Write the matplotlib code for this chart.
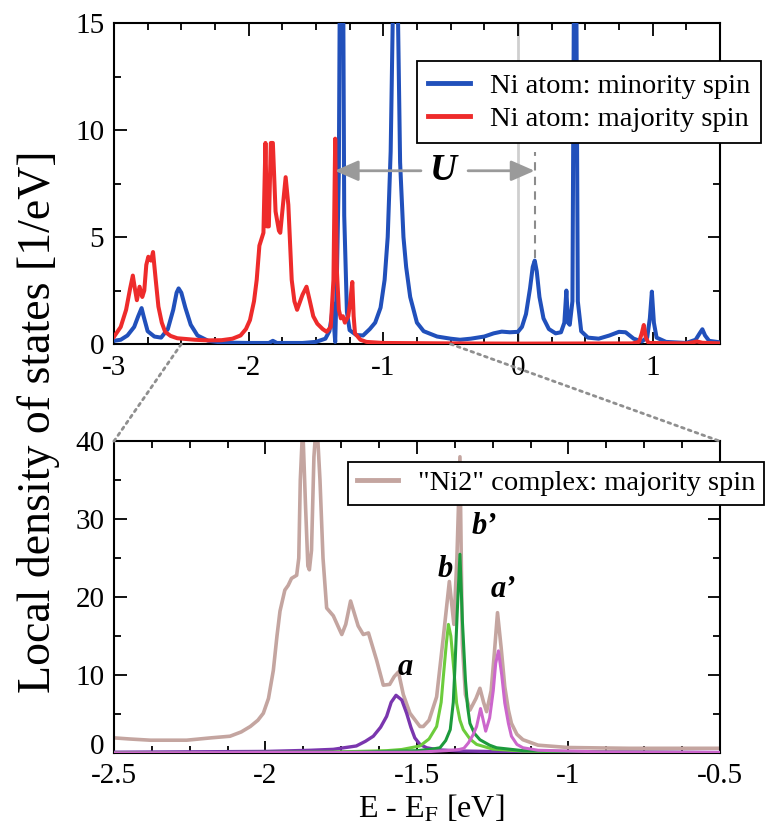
"""
Local density of states: Ni atom (top) and "Ni2" complex zoom (bottom).
"""

import matplotlib
matplotlib.use("Agg")
import matplotlib.pyplot as plt
from matplotlib.patches import ConnectionPatch
from matplotlib.ticker import MultipleLocator

plt.rcParams["font.family"] = ["Liberation Serif", "DejaVu Serif"]
plt.rcParams["mathtext.fontset"] = "stix"
plt.rcParams["axes.unicode_minus"] = False

# ---- top panel: Ni atom ----
minority_x = [-3.0, -2.95, -2.9, -2.85, -2.82, -2.795, -2.78, -2.75, -2.7, -2.65,
              -2.6, -2.56, -2.535, -2.52, -2.5, -2.47, -2.43, -2.38, -2.3, -2.2,
              -2.0, -1.85, -1.82, -1.79, -1.6, -1.5, -1.43, -1.4, -1.385, -1.373,
              -1.365, -1.357, -1.345, -1.33, -1.32, -1.31, -1.3, -1.29, -1.27, -1.25,
              -1.2, -1.15, -1.1, -1.06, -1.02, -0.99, -0.967, -0.945, -0.93, -0.907,
              -0.89, -0.875, -0.85, -0.83, -0.8, -0.75, -0.7, -0.6, -0.5, -0.43,
              -0.35, -0.25, -0.18, -0.12, -0.06, 0.0, 0.03, 0.06, 0.09, 0.11,
              0.125, 0.14, 0.16, 0.19, 0.23, 0.28, 0.32, 0.345, 0.36, 0.372,
              0.385, 0.405, 0.415, 0.425, 0.435, 0.445, 0.47, 0.52, 0.6, 0.68,
              0.75, 0.8, 0.86, 0.92, 0.96, 0.98, 0.995, 1.01, 1.03, 1.1,
              1.25, 1.32, 1.35, 1.37, 1.39, 1.42, 1.5]
minority_y = [0.15, 0.2, 0.4, 0.8, 1.3, 1.68, 1.3, 0.6, 0.35, 0.3,
              0.7, 1.6, 2.4, 2.6, 2.4, 1.7, 0.9, 0.4, 0.15, 0.07,
              0.05, 0.05, 0.15, 0.05, 0.05, 0.1, 0.25, 0.6, 1.2, 1.9,
              0.8, 0.1, 3.0, 8.0, 20.0, 40.0, 20.0, 6.0, 1.5, 0.65,
              0.42, 0.4, 0.7, 1.0, 1.7, 3.0, 5.0, 9.0, 15.0, 40.0,
              15.0, 8.5, 5.0, 3.6, 2.2, 1.0, 0.6, 0.35, 0.25, 0.2,
              0.25, 0.35, 0.5, 0.58, 0.55, 0.57, 0.8, 1.4, 2.6, 3.6,
              3.9, 3.4, 2.2, 1.2, 0.7, 0.5, 0.55, 1.0, 2.5, 1.0,
              0.9, 2.0, 15.0, 40.0, 15.0, 2.0, 0.6, 0.3, 0.25, 0.4,
              0.57, 0.55, 0.25, 0.12, 0.3, 1.2, 2.45, 1.0, 0.3, 0.1,
              0.05, 0.2, 0.5, 0.69, 0.4, 0.15, 0.08]

majority_x = [-3.0, -2.95, -2.91, -2.88, -2.86, -2.845, -2.83, -2.81, -2.79, -2.775,
              -2.76, -2.745, -2.725, -2.71, -2.69, -2.67, -2.645, -2.62, -2.58, -2.53,
              -2.4, -2.3, -2.2, -2.12, -2.06, -2.02, -1.99, -1.96, -1.94, -1.92,
              -1.905, -1.89, -1.875, -1.863, -1.85, -1.835, -1.82, -1.8, -1.775, -1.765,
              -1.745, -1.725, -1.705, -1.68, -1.66, -1.64, -1.6, -1.57, -1.545, -1.52,
              -1.49, -1.45, -1.42, -1.39, -1.37, -1.357, -1.345, -1.33, -1.315, -1.3,
              -1.285, -1.26, -1.245, -1.23, -1.22, -1.21, -1.17, -1.125, -1.0, -0.5,
              0.0, 0.85, 0.9, 0.92, 0.935, 0.95, 0.97, 1.25, 1.3, 1.33,
              1.37, 1.5]
majority_y = [0.34, 0.8, 1.6, 2.6, 3.2, 2.6, 2.05, 2.68, 2.2, 2.5,
              3.7, 4.08, 3.9, 4.3, 3.0, 1.75, 1.0, 0.57, 0.38, 0.27,
              0.2, 0.17, 0.18, 0.25, 0.4, 0.7, 1.12, 2.0, 3.0, 4.6,
              4.9, 5.2, 9.4, 5.5, 5.5, 9.4, 9.4, 6.2, 5.3, 5.2,
              6.5, 7.8, 6.5, 3.0, 2.0, 1.6, 2.3, 2.68, 2.0, 1.3,
              0.95, 0.7, 0.57, 0.8, 3.0, 9.6, 3.5, 1.6, 1.2, 1.3,
              1.0, 1.3, 2.0, 2.9, 1.3, 0.5, 0.2, 0.1, 0.05, 0.03,
              0.02, 0.03, 0.1, 0.5, 0.89, 0.3, 0.05, 0.03, 0.08, 0.12,
              0.06, 0.03]

# ---- bottom panel: "Ni2" complex ----
ni2_x = [-2.5, -2.45, -2.38, -2.26, -2.18, -2.117, -2.08, -2.05, -2.025, -2.007,
         -1.99, -1.974, -1.962, -1.952, -1.936, -1.925, -1.914, -1.897, -1.89, -1.885,
         -1.877, -1.868, -1.86, -1.855, -1.848, -1.84, -1.831, -1.82, -1.81, -1.798,
         -1.776, -1.754, -1.748, -1.735, -1.719, -1.694, -1.677, -1.66, -1.633, -1.611,
         -1.59, -1.575, -1.561, -1.545, -1.523, -1.49, -1.479, -1.46, -1.435, -1.413,
         -1.393, -1.378, -1.368, -1.358, -1.35, -1.34, -1.325, -1.305, -1.292, -1.28,
         -1.27, -1.255, -1.244, -1.234, -1.222, -1.21, -1.198, -1.188, -1.17, -1.15,
         -1.1, -1.0, -0.8, -0.5]
ni2_y = [1.94, 1.8, 1.64, 1.64, 1.94, 2.15, 2.7, 3.4, 4.2, 5.1,
         7.0, 10.6, 15.0, 18.2, 20.9, 21.5, 22.4, 22.8, 25.0, 35.0,
         42.0, 32.0, 24.0, 23.5, 26.0, 38.0, 43.0, 35.0, 25.0, 18.6,
         17.6, 15.7, 15.2, 16.5, 19.5, 16.3, 15.2, 15.4, 11.9, 8.7,
         8.8, 9.8, 10.4, 7.5, 5.1, 3.4, 3.4, 4.2, 7.2, 14.8,
         22.0, 16.5, 25.0, 38.0, 14.0, 7.5, 5.5, 7.0, 8.3, 6.5,
         5.3, 8.0, 13.0, 18.0, 13.5, 8.5, 5.5, 3.8, 2.4, 1.7,
         1.0, 0.7, 0.6, 0.6]

a_x = [-2.5, -2.0, -1.85, -1.776, -1.7, -1.67, -1.644, -1.62, -1.6, -1.585,
       -1.569, -1.55, -1.534, -1.52, -1.507, -1.49, -1.468, -1.43, -1.35, -1.2, -0.5]
a_y = [0.1, 0.2, 0.35, 0.47, 0.9, 1.5, 2.15, 3.3, 4.7, 6.5,
       7.4, 6.8, 5.1, 3.3, 1.94, 1.1, 0.67, 0.4, 0.25, 0.15, 0.05]

b_x = [-2.5, -1.8, -1.6, -1.55, -1.49, -1.46, -1.435, -1.42, -1.413, -1.403,
       -1.396, -1.388, -1.378, -1.369, -1.358, -1.347, -1.325, -1.303, -1.25, -1.15,
       -0.9, -0.5]
b_y = [0.02, 0.1, 0.3, 0.45, 0.9, 1.8, 3.4, 6.5, 9.7, 14.0,
       16.5, 15.0, 10.6, 6.4, 4.2, 3.0, 1.8, 1.1, 0.5, 0.25,
       0.1, 0.05]

bp_x = [-2.5, -1.7, -1.5, -1.45, -1.424, -1.405, -1.39, -1.38, -1.375, -1.367,
        -1.358, -1.35, -1.34, -1.333, -1.325, -1.31, -1.292, -1.26, -1.237, -1.15,
        -0.9, -0.5]
bp_y = [0.02, 0.1, 0.3, 0.5, 0.67, 1.6, 3.0, 6.5, 10.6, 18.0,
        25.5, 17.0, 9.4, 6.0, 3.8, 2.5, 1.7, 1.0, 0.67, 0.3,
        0.12, 0.05]

ap_x = [-2.5, -1.5, -1.4, -1.36, -1.345, -1.33, -1.315, -1.303, -1.29, -1.28,
        -1.273, -1.26, -1.248, -1.24, -1.231, -1.22, -1.21, -1.198, -1.188, -1.17,
        -1.15, -1.1, -0.9, -0.5]
ap_y = [0.02, 0.1, 0.3, 0.45, 0.6, 1.3, 2.3, 3.4, 5.7, 4.0,
        2.8, 4.5, 8.0, 11.5, 13.1, 10.0, 6.4, 3.8, 2.15, 1.1,
        0.67, 0.35, 0.15, 0.08]

# peak labels in the bottom panel
peak_labels = ["a", "b", "b\u2019", "a\u2019"]
peak_label_x = [-1.54, -1.407, -1.278, -1.215]
peak_label_y = [11.0, 23.5, 29.0, 21.0]

# U arrow (top panel)
u_left, u_right = -1.36, 0.124
u_y = 8.1
u_text_x = -0.555
u_gap = (-0.72, -0.37)
dash_y = (4.0, 9.0)

zoom_lo, zoom_hi = -2.5, -0.5

fig = plt.figure(figsize=(7.65, 8.27), dpi=100)
ax1 = fig.add_axes([0.149, 0.584, 0.792, 0.388])
ax2 = fig.add_axes([0.149, 0.0895, 0.792, 0.377])

blue = "#2150bb"
red = "#ee2b2b"

ax1.axvline(0.0, color="#cfcfcf", lw=2, zorder=1)
ax1.plot(minority_x, minority_y, color=blue, lw=2.9, label="Ni atom: minority spin", zorder=3)
ax1.plot(majority_x, majority_y, color=red, lw=2.9, label="Ni atom: majority spin", zorder=4)

ax1.plot([u_right, u_right], dash_y, color="#8c8c8c", lw=1.5, ls=(0, (4, 3)), zorder=2)
arrow_kw = dict(arrowstyle="-|>,head_length=0.8,head_width=0.35", color="#9a9a9a",
                lw=2, mutation_scale=18, shrinkA=0, shrinkB=0)
ax1.annotate("", xy=(u_left, u_y), xytext=(u_gap[0], u_y), arrowprops=arrow_kw, zorder=5)
ax1.annotate("", xy=(u_right, u_y), xytext=(u_gap[1], u_y), arrowprops=arrow_kw, zorder=5)
ax1.text(u_text_x, u_y, "U", fontsize=27, fontweight="bold", fontstyle="italic",
         ha="center", va="center", zorder=6)

ax1.set_xlim(-3, 1.5)
ax1.set_ylim(0, 15)
ax1.xaxis.set_major_locator(MultipleLocator(1))
ax1.xaxis.set_minor_locator(MultipleLocator(0.25))
ax1.yaxis.set_major_locator(MultipleLocator(5))
ax1.yaxis.set_minor_locator(MultipleLocator(2.5))

ax2.plot(ni2_x, ni2_y, color="#c4a5a0", lw=2.6, label='"Ni2" complex: majority spin', zorder=2)
ax2.plot(a_x, a_y, color="#7a36ae", lw=2.4, zorder=3)
ax2.plot(b_x, b_y, color="#6ccc3c", lw=2.2, zorder=4)
ax2.plot(bp_x, bp_y, color="#1c9a3c", lw=2.2, zorder=4)
ax2.plot(ap_x, ap_y, color="#cc66cc", lw=2.2, zorder=5)
for lab, lx, ly in zip(peak_labels, peak_label_x, peak_label_y):
    ax2.text(lx, ly, lab, fontsize=22, fontweight="bold", fontstyle="italic",
             ha="center", va="center", zorder=6)

ax2.set_xlim(zoom_lo, zoom_hi)
ax2.set_ylim(0, 40)
ax2.xaxis.set_major_locator(MultipleLocator(0.5))
ax2.xaxis.set_minor_locator(MultipleLocator(0.125))
ax2.yaxis.set_major_locator(MultipleLocator(10))
ax2.yaxis.set_minor_locator(MultipleLocator(5))
ax2.xaxis.set_major_formatter(plt.FuncFormatter(lambda v, p: f"{v:g}"))
# the "0" of the lower y axis is written separately, lifted a little so it clears "-2.5"
ax2.yaxis.set_major_formatter(plt.FuncFormatter(lambda v, p: "" if v == 0 else f"{v:g}"))
ax2.annotate("0", xy=(0, 0), xycoords="axes fraction", xytext=(-7, 4),
             textcoords="offset points", ha="right", va="center", fontsize=21)

for ax in (ax1, ax2):
    ax.tick_params(which="both", direction="in", top=True, right=True, labelsize=21, width=1.3)
    ax.tick_params(which="major", length=9)
    ax.tick_params(which="minor", length=5)
    ax.tick_params(axis="x", pad=8)
    ax.tick_params(axis="y", pad=7)
    for sp in ax.spines.values():
        sp.set_linewidth(1.5)
ax2.tick_params(axis="x", pad=7)

leg_kw = dict(fontsize=20.5, frameon=True, fancybox=False, framealpha=1, edgecolor="black",
              handlelength=1.45, handletextpad=0.7, borderaxespad=0,
              loc="upper left", bbox_transform=fig.transFigure)
leg1 = ax1.legend(bbox_to_anchor=(0.545, 0.926), borderpad=0.4, labelspacing=0.25, **leg_kw)
leg2 = ax2.legend(bbox_to_anchor=(0.455, 0.4414), borderpad=0.3, **leg_kw)
for leg in (leg1, leg2):
    leg.get_frame().set_linewidth(1.3)
    leg.set_zorder(10)
    for ln in leg.get_lines():
        ln.set_linewidth(3.5)

# zoom connectors
for xv in (zoom_lo, zoom_hi):
    con = ConnectionPatch(xyA=(xv, 0), coordsA=ax1.transData,
                          xyB=(xv, 40), coordsB=ax2.transData,
                          color="#8f8f8f", lw=2, ls=(0, (1, 1.6)))
    fig.add_artist(con)

fig.text(0.05, 0.49, "Local density of states [1/eV]", rotation=90,
         fontsize=33, ha="center", va="center")
fig.text(0.564, 0.003, "E - E$_\\mathrm{F}$ [eV]", fontsize=23, ha="center", va="bottom")

fig.savefig("out.png", dpi=100)
